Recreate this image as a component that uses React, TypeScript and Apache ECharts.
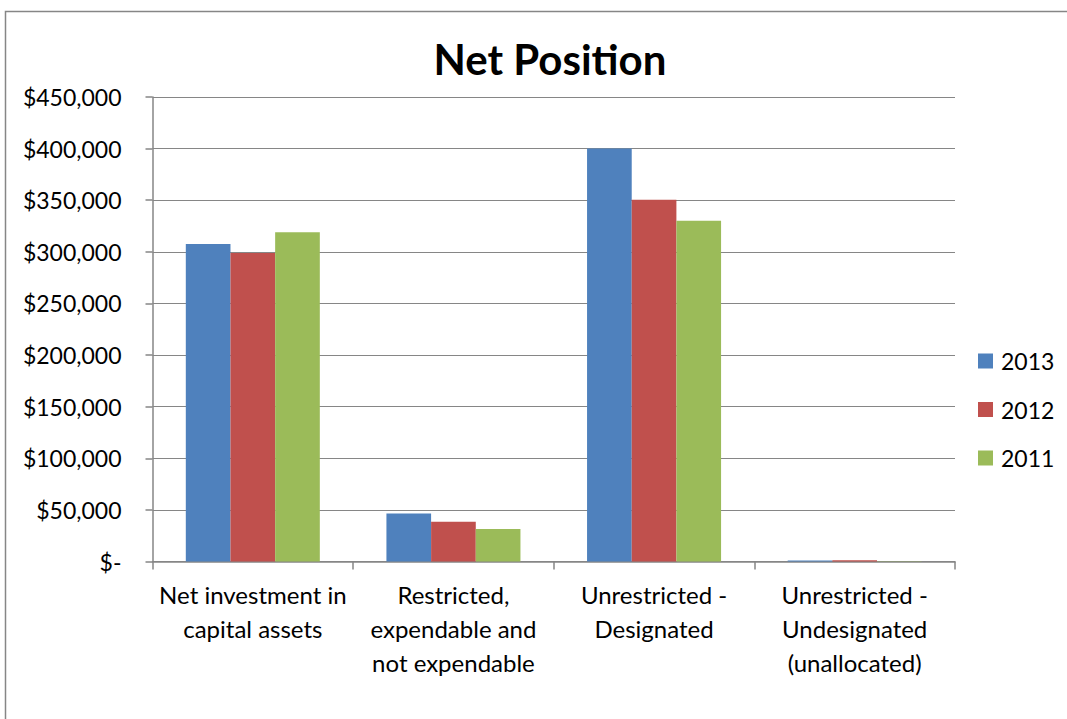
import React, { useEffect, useRef } from "react";
import * as echarts from "echarts";

const categories = [
  "Net investment in\ncapital assets",
  "Restricted,\nexpendable and\nnot expendable",
  "Unrestricted -\nDesignated",
  "Unrestricted -\nUndesignated\n(unallocated)",
];
const seriesNames = ["2013", "2012", "2011"];
const values2013 = [307600, 46500, 400000, 900];
const values2012 = [298800, 38500, 350500, 1100];
const values2011 = [318900, 31500, 330000, 300];
const colors = ["#4F81BD", "#C0504D", "#9BBB59"];
const yTicks = [0, 50000, 100000, 150000, 200000, 250000, 300000, 350000, 400000, 450000];

const FONT = "Lato, 'Liberation Sans', sans-serif";

export default function App() {
  const ref = useRef<HTMLDivElement>(null);
  useEffect(() => {
    if (!ref.current) return;
    const chart = echarts.init(ref.current, undefined, { renderer: "svg" });
    const data = [values2013, values2012, values2011];
    chart.setOption({
      animation: false,
      backgroundColor: "#fff",
      title: {
        text: "Net Position",
        left: 545,
        textAlign: "center",
        top: 33,
        textStyle: { fontFamily: FONT, fontSize: 42, fontWeight: "bold", color: "#000" },
      },
      grid: { left: 152.5, right: 112, top: 97, bottom: 157.5 },
      legend: {
        orient: "vertical",
        left: 973,
        top: 344.5,
        itemWidth: 15,
        itemHeight: 15,
        itemGap: 25.5,
        icon: "rect",
        data: seriesNames,
        textStyle: {
          fontFamily: FONT,
          fontSize: 23,
          color: "#000",
          padding: [0, 0, 0, 3],
        },
      },
      xAxis: {
        type: "category",
        data: categories,
        axisLine: { lineStyle: { color: "#868686", width: 1.5 } },
        axisTick: { show: true, length: 8, lineStyle: { color: "#868686", width: 1.5 } },
        axisLabel: {
          fontFamily: FONT,
          fontSize: 24,
          color: "#000",
          lineHeight: 34,
          margin: 16,
          interval: 0,
        },
      },
      yAxis: {
        type: "value",
        min: 0,
        max: 450000,
        interval: 50000,
        axisLine: { show: true, lineStyle: { color: "#868686", width: 1.5 } },
        axisTick: { show: true, length: 7, lineStyle: { color: "#868686", width: 1.5 } },
        splitLine: { lineStyle: { color: "#868686", width: 1 } },
        axisLabel: {
          fontFamily: FONT,
          fontSize: 23,
          color: "#000",
          margin: 31,
          customValues: yTicks,
          formatter: (v: number) => (v === 0 ? "$-" : "$" + v.toLocaleString("en-US")),
        },
      },
      series: seriesNames.map((name, i) => ({
        name,
        type: "bar",
        data: data[i],
        barGap: "0%",
        barCategoryGap: "33.2%",
        itemStyle: { color: colors[i] },
      })),
      graphic: [
        {
          type: "rect",
          shape: { x: 5.5, y: 11.5, width: 2000, height: 2000 },
          style: { fill: "none", stroke: "#868686", lineWidth: 1.5 },
          silent: true,
        },
      ],
    });
    return () => chart.dispose();
  }, []);
  return (
    <div
      ref={ref}
      style={{ position: "absolute", left: 0, top: 0, width: 1067, height: 719 }}
    />
  );
}
